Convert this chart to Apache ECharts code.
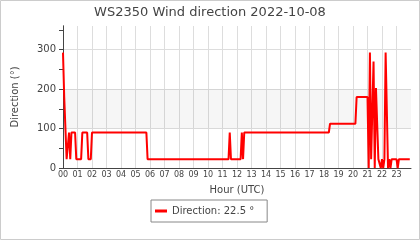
<!DOCTYPE html>
<html>
<head>
<meta charset="utf-8">
<script src="https://cdn.jsdelivr.net/npm/echarts@6/dist/echarts.min.js"></script>
<style>
html,body{margin:0;padding:0;background:#fff;}
#c{width:420px;height:240px;}
</style>
</head>
<body>
<div id="c"></div>
<script>
const titleText = "WS2350 Wind direction 2022-10-08";
const seriesName = "Direction: 22.5 °";
const times = ["00:00","00:05","00:10","00:15","00:20","00:25","00:30","00:35","00:50","00:55",
  "01:15","01:20","01:40","01:45","01:55","02:00","05:45","05:50","11:25","11:30",
  "11:35","12:15","12:20","12:25","12:30","18:20","18:25","20:10","20:15","21:00",
  "21:05","21:10","21:15","21:20","21:25","21:30","21:35","21:40","21:45","21:50",
  "21:55","22:00","22:05","22:10","22:15","22:20","22:25","22:30","22:35","22:40",
  "23:00","23:05","23:10","23:55"];
const directions = [292.5,180,180,22.5,22.5,90,22.5,90,90,22.5,
  22.5,90,90,22.5,22.5,90,90,22.5,22.5,90,
  22.5,22.5,90,22.5,90,90,112.5,112.5,180,180,
  0,292.5,22.5,22.5,270,0,202.5,202.5,22.5,22.5,
  0,22.5,0,22.5,292.5,292.5,0,22.5,0,22.5,
  22.5,0,22.5,22.5];
const yTickValues = [0,50,100,150,200,250,300,350];

function toHours(s){const p=s.split(':');return (+p[0])+(+p[1])/60;}
const data = times.map((t,i)=>[toHours(t),directions[i]]);

const chart = echarts.init(document.getElementById('c'));
const txt = '#444';
chart.setOption({
  animation:false,
  textStyle:{fontFamily:'DejaVu Sans'},
  title:{text:titleText,left:'center',top:1,textStyle:{fontSize:13,fontWeight:'normal',color:txt,fontFamily:'DejaVu Sans'}},
  grid:{left:63,right:9,top:26,bottom:72},
  graphic:[{type:'rect',shape:{x:0.5,y:0.5,width:419,height:239},style:{fill:'none',stroke:'#ccc',lineWidth:1},silent:true}],
  legend:{bottom:18,left:151,data:[{name:seriesName,icon:'rect'}],itemWidth:12,itemHeight:3,
    borderColor:'#888',borderWidth:1,borderRadius:0,padding:[6,13,6,4],
    textStyle:{fontSize:10,color:txt,fontFamily:'DejaVu Sans'}},
  xAxis:{type:'value',min:0,max:24,interval:1,
    name:'Hour (UTC)',nameLocation:'middle',nameGap:17,nameTextStyle:{fontSize:10,color:txt},
    axisLine:{lineStyle:{color:'#444'}},axisTick:{show:false},
    axisLabel:{fontSize:8,color:txt,margin:3,formatter:v=>v>=24?'':String(v).padStart(2,'0')},
    splitLine:{show:true,showMaxLine:false,lineStyle:{color:'#ddd'}}},
  yAxis:[{type:'value',min:0,max:360,interval:100,
    name:'Direction (°)',nameLocation:'middle',nameGap:43,nameTextStyle:{fontSize:10,color:txt},
    axisLine:{show:true,lineStyle:{color:'#444'}},
    axisTick:{show:false},
    axisLabel:{fontSize:10,color:txt,margin:7,formatter:v=>v>=360?'':v},
    splitLine:{show:true,showMaxLine:false,lineStyle:{color:'#ddd'}}},
    {type:'value',min:0,max:360,interval:50,position:'left',
    axisLine:{show:true,lineStyle:{color:'#444'}},
    axisTick:{show:true,length:4,customValues:yTickValues,lineStyle:{color:'#444'}},
    axisLabel:{show:false},splitLine:{show:false}}],
  series:[{name:seriesName,type:'line',data:data,showSymbol:false,symbol:'none',yAxisIndex:0,
    lineStyle:{color:'#ff0000',width:2},itemStyle:{color:'#ff0000'},
    markArea:{silent:true,itemStyle:{color:'rgba(0,0,0,0.035)'},data:[[{yAxis:100},{yAxis:200}]]}}]
});
</script>
</body>
</html>
